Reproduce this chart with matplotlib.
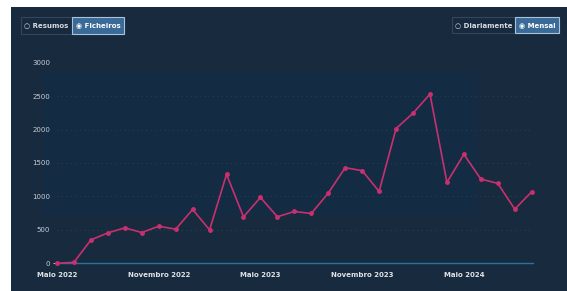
import matplotlib
matplotlib.use("Agg")
import matplotlib.pyplot as plt
from matplotlib.patches import Rectangle

# monthly values, May 2022 .. Sep 2024
months = ["2022-05", "2022-06", "2022-07", "2022-08", "2022-09", "2022-10", "2022-11",
          "2022-12", "2023-01", "2023-02", "2023-03", "2023-04", "2023-05", "2023-06",
          "2023-07", "2023-08", "2023-09", "2023-10", "2023-11", "2023-12", "2024-01",
          "2024-02", "2024-03", "2024-04", "2024-05", "2024-06", "2024-07", "2024-08",
          "2024-09"]
values = [0, 15, 350, 455, 530, 460, 555, 510, 805, 500, 1330, 695, 985, 695, 775,
          745, 1050, 1430, 1385, 1075, 2015, 2245, 2530, 1210, 1630, 1260, 1195, 810, 1070]

xtick_pos = [0, 6, 12, 18, 24]
xtick_labels = ["Maio 2022", "Novembro 2022", "Maio 2023", "Novembro 2023", "Maio 2024"]
yticks = [0, 500, 1000, 1500, 2000, 2500, 3000]

W, H = 567, 291
BG = "#182a3e"
TXT = "#c9ced6"
LINE = "#c8306f"


def px(x, y):
    # pixel (from top-left) -> figure fraction
    return x / W, 1 - y / H


def button(fig, x, y, w, h, label, active):
    fx, fy = px(x, y + h)
    fc = "#3a6a98" if active else BG
    ec = "#a9c3da" if active else "#34465a"
    fig.patches.append(Rectangle((fx, fy), w / W, h / H, transform=fig.transFigure,
                                 facecolor=fc, edgecolor=ec, linewidth=0.8, zorder=-1))
    mark = "\u25c9" if active else "\u25cb"
    cx, cy = px(x + w / 2, y + h / 2)
    fig.text(cx, cy, f"{mark} {label}", ha="center", va="center", fontsize=5,
             fontweight="bold", color="white" if active else "#d6dbe2")


fig = plt.figure(figsize=(W / 100, H / 100), dpi=100, facecolor="white")

# dark panel
fx, fy = px(11, H)
fig.patches.append(Rectangle((fx, fy), (W - 11) / W, (H - 7) / H, zorder=-3,
                             transform=fig.transFigure, facecolor=BG, edgecolor="none"))
# subtle inner shading
fx, fy = px(43, 215)
fig.patches.append(Rectangle((fx, fy), (478 - 43) / W, (215 - 72) / H, zorder=-2,
                             transform=fig.transFigure, facecolor="#132c43", edgecolor="none"))

button(fig, 21, 17, 51, 17, "Resumos", False)
button(fig, 72, 17, 52, 17, "Ficheiros", True)
button(fig, 452, 17, 63, 16, "Diariamente", False)
button(fig, 515, 17, 44, 16, "Mensal", True)

x0, x1 = 57, 531.7
y0, y1 = 263.3, 62.7
left, bottom = px(x0, y0)
ax = fig.add_axes([left, bottom, (x1 - x0) / W, (y0 - y1) / H])
ax.set_zorder(2)
ax.patch.set_alpha(0)
for s in ax.spines.values():
    s.set_visible(False)

xs = list(range(len(values)))
ax.set_xlim(0, len(values) - 1)
ax.set_ylim(0, 3000)

for yv in yticks[1:-1]:
    ax.plot([0, len(values) - 1 + 0.1], [yv, yv], color="#2a3c50", lw=0.8,
            ls=(0, (1, 3)), zorder=1)
ax.plot([0, len(values) - 1 + 0.1], [0, 0], color="#2e6ea3", lw=1.0, zorder=2,
        clip_on=False)

ax.plot(xs, values, color=LINE, lw=1.2, marker="o", ms=2.5, zorder=3, clip_on=False)

ax.set_yticks(yticks)
ax.set_yticklabels([str(v) for v in yticks], fontsize=5, color=TXT)
ax.tick_params(axis="y", length=3, pad=2, color=TXT, width=0.6)
for i, t in enumerate(ax.yaxis.get_major_ticks()):
    if i > 0:
        t.tick1line.set_visible(False)

ax.set_xticks(xtick_pos)
ax.set_xticklabels(xtick_labels, fontsize=5.0, color="#dfe3e8", fontweight="bold")
ax.tick_params(axis="x", length=0, pad=6)

fig.savefig("out.png", dpi=100, facecolor="white")
